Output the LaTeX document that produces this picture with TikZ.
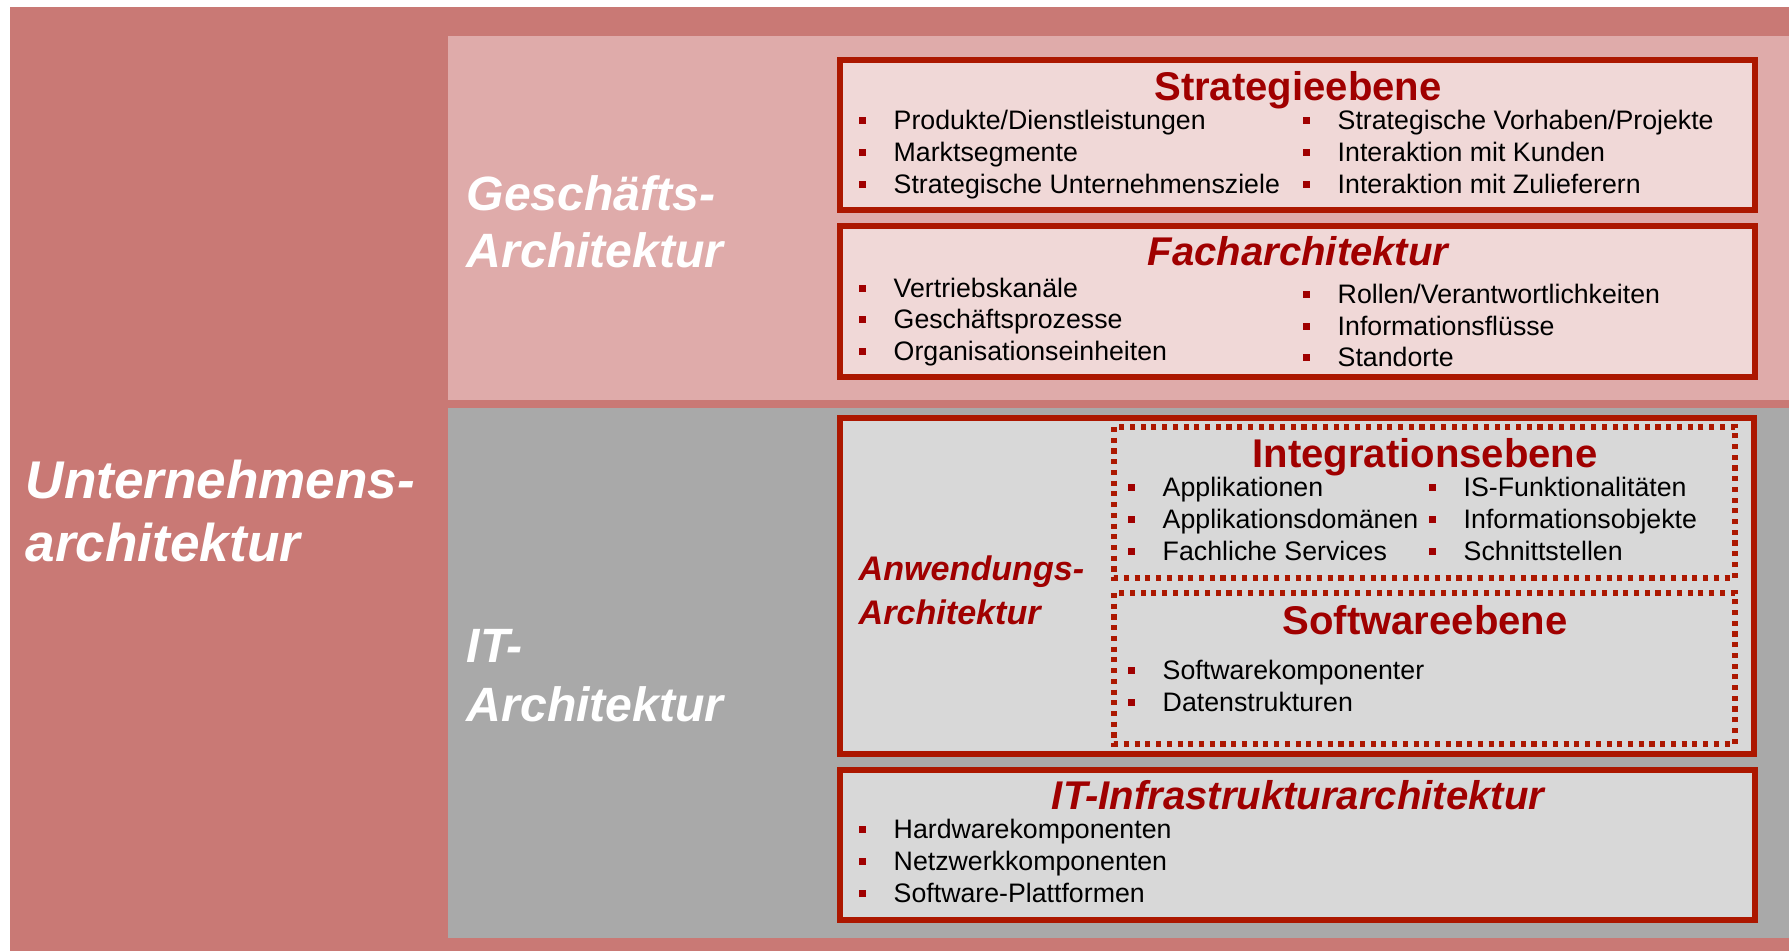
\documentclass[tikz,border=0pt]{standalone}
\usepackage{fontspec}
\setmainfont{Liberation Sans}
\definecolor{UnternRed}{HTML}{C97975}
\definecolor{GeschPink}{HTML}{DFABAA}
\definecolor{GeschFill}{HTML}{F0D8D7}
\definecolor{ITGray}{HTML}{A9A9A9}
\definecolor{ITFill}{HTML}{D8D8D8}
\definecolor{BoxRed}{HTML}{AC1700}
\definecolor{TitleRed}{HTML}{A00000}
\usepackage{tikz}
\usetikzlibrary{positioning}

\tikzset{
  layerbox/.style={draw=BoxRed, line width=1.45pt},
  dotbox/.style={draw=BoxRed, line width=1.45pt, dash pattern=on 1.45pt off 1.6pt},
  biglabel/.style={anchor=west, inner sep=0pt, align=left, text=white},
  sidelabel/.style={anchor=west, inner sep=0pt, align=left, text=TitleRed},
  boxtitle/.style={inner sep=0pt, text height=8.2pt, text depth=0pt, text=TitleRed},
  itemtext/.style={anchor=west, inner sep=0pt, text height=5.45pt, text depth=0pt, font=\fontsize{7.6}{9}\selectfont},
}
\newcommand{\bulitem}[4]{%
  \fill[TitleRed] (#2-34,#3-3.5) rectangle ++(7,7);
  \node[itemtext] (#1) at (#2,#3) {#4};}

\begin{document}
\begin{tikzpicture}[x=0.01cm, y=-0.01cm]
        \useasboundingbox (0,0) rectangle (1789,951);
        \fill[white] (0,0) rectangle (1789,951);

        % panels
        \fill[UnternRed] (10,7) rectangle (1789,951);
        \fill[GeschPink] (448,36) rectangle (1789,400);
        \fill[ITGray] (448,408) rectangle (1789,938);

        \node[biglabel, font=\fontsize{15.1}{17.9}\selectfont\bfseries\itshape] (untern) at (25,511) {Unternehmens-\\architektur};
        \node[biglabel, font=\fontsize{13.7}{16.2}\selectfont\bfseries\itshape] (gesch) at (466,222) {Gesch\"afts-\\Architektur};
        \node[biglabel, font=\fontsize{13.7}{16.8}\selectfont\bfseries\itshape] (itarch) at (466,676) {IT-\\Architektur};

        % Strategieebene
        \draw[layerbox, fill=GeschFill] (840,60) rectangle (1755,210);
        \node[boxtitle, font=\fontsize{11.4}{13}\selectfont\bfseries] (strat) at (1298,86) {Strategieebene};
        \bulitem{s1}{893}{120}{Produkte/Dienstleistungen}
        \bulitem{s2}{893}{152}{Marktsegmente}
        \bulitem{s3}{893}{184}{Strategische Unternehmensziele}
        \bulitem{s4}{1337}{120}{Strategische Vorhaben/Projekte}
        \bulitem{s5}{1337}{152}{Interaktion mit Kunden}
        \bulitem{s6}{1337}{184}{Interaktion mit Zulieferern}

        % Facharchitektur
        \draw[layerbox, fill=GeschFill] (840,226) rectangle (1755,377);
        \node[boxtitle, font=\fontsize{11.4}{13}\selectfont\bfseries\itshape] (fach) at (1298,251) {Facharchitektur};
        \bulitem{f1}{893}{288}{Vertriebskan\"ale}
        \bulitem{f2}{893}{319}{Gesch\"aftsprozesse}
        \bulitem{f3}{893}{351}{Organisationseinheiten}
        \bulitem{f4}{1337}{294}{Rollen/Verantwortlichkeiten}
        \bulitem{f5}{1337}{326}{Informationsfl\"usse}
        \bulitem{f6}{1337}{357}{Standorte}

        % Anwendungsarchitektur
        \draw[layerbox, fill=ITFill] (840,418) rectangle (1754,754);
        \node[sidelabel, font=\fontsize{9.7}{12.5}\selectfont\bfseries\itshape] (anw) at (858,590) {Anwendungs-\\Architektur};

        \draw[dotbox] (1114,427) rectangle (1735,578);
        \node[boxtitle, font=\fontsize{11.4}{13}\selectfont\bfseries] (integ) at (1425,453) {Integrationsebene};
        \bulitem{i1}{1162}{487}{Applikationen}
        \bulitem{i2}{1162}{519}{Applikationsdom\"anen}
        \bulitem{i3}{1162}{551}{Fachliche Services}
        \bulitem{i4}{1463}{487}{IS-Funktionalit\"aten}
        \bulitem{i5}{1463}{519}{Informationsobjekte}
        \bulitem{i6}{1463}{551}{Schnittstellen}

        \draw[dotbox] (1114,593) rectangle (1735,744);
        \node[boxtitle, font=\fontsize{11.4}{13}\selectfont\bfseries] (soft) at (1425,620) {Softwareebene};
        \bulitem{w1}{1162}{670}{Softwarekomponenter}
        \bulitem{w2}{1162}{702}{Datenstrukturen}

        % IT-Infrastrukturarchitektur
        \draw[layerbox, fill=ITFill] (840,770) rectangle (1755,920);
        \node[boxtitle, font=\fontsize{11.4}{13}\selectfont\bfseries\itshape] (infra) at (1298,795) {IT-Infrastrukturarchitektur};
        \bulitem{h1}{893}{829}{Hardwarekomponenten}
        \bulitem{h2}{893}{861}{Netzwerkkomponenten}
        \bulitem{h3}{893}{893}{Software-Plattformen}
\end{tikzpicture}
\end{document}
